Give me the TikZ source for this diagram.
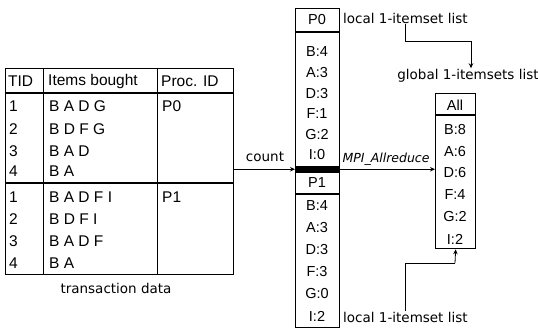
\documentclass[tikz,border=0pt]{standalone}
\usepackage{fontspec}
\setmainfont{DejaVu Sans}
\newfontfamily\tabf{Liberation Sans}
\usetikzlibrary{arrows.meta}
\begin{document}
\begin{tikzpicture}[x=1pt,y=-1pt,
  lab/.style={font=\fontsize{13.5}{16}\selectfont, inner sep=1pt},
  tt/.style={font=\tabf\fontsize{15.5}{18}\selectfont, inner sep=0pt, anchor=west},
  ct/.style={font=\tabf\fontsize{14.5}{17}\selectfont, inner sep=0pt},
  boxs/.style={draw, line width=1.3pt, inner sep=0pt, anchor=north west},
  rule/.style={line width=0.9pt},
  arr/.style={line width=0.8pt, -{Stealth[length=5pt,width=4.5pt]}},
  seg/.style={line width=0.8pt}]
\useasboundingbox (0,0) rectangle (538,328);

% ---- transaction table ----
\node[boxs, minimum width=228pt, minimum height=206pt] (tab) at (5,68) {};
\draw[rule] (43,68) -- (43,274);
\draw[rule] (157,68) -- (157,274);
\draw[line width=1.2pt] (5,93) -- (233,93);
\draw[line width=1.2pt] (5,183) -- (233,183);
\node[tt] (h1) at (8,81) {TID};
\node[tt] (h2) at (48,81) {Items bought};
\node[tt] (h3) at (161,81) {Proc. ID};
\node[tt] (a1) at (9,106) {1};
\node[tt] (a2) at (9,129) {2};
\node[tt] (a3) at (9,151) {3};
\node[tt] (a4) at (9,171) {4};
\node[tt] (i1) at (49,106) {B A D G};
\node[tt] (i2) at (49,129) {B D F G};
\node[tt] (i3) at (49,151) {B A D};
\node[tt] (i4) at (49,171) {B A};
\node[tt] (pp0) at (162,106) {P0};
\node[tt] (b1) at (9,197) {1};
\node[tt] (b2) at (9,219) {2};
\node[tt] (b3) at (9,241) {3};
\node[tt] (b4) at (9,263) {4};
\node[tt] (j1) at (49,197) {B A D F I};
\node[tt] (j2) at (49,219) {B D F I};
\node[tt] (j3) at (49,241) {B A D F};
\node[tt] (j4) at (49,263) {B A};
\node[tt] (pp1) at (162,197) {P1};
\node[lab] (cap) at (116,288) {transaction data};

% ---- local lists ----
\node[boxs, minimum width=44pt, minimum height=159pt] (p0box) at (295,8) {};
\draw[line width=1.1pt] (295,32) -- (339,32);
\node[ct] (p0h) at (317,20) {P0};
\node[ct] (p0a) at (317,52) {B:4};
\node[ct] (p0b) at (317,72.6) {A:3};
\node[ct] (p0c) at (317,93.2) {D:3};
\node[ct] (p0d) at (317,113.8) {F:1};
\node[ct] (p0e) at (317,134.4) {G:2};
\node[ct] (p0f) at (317,155) {I:0};
\node[draw, fill=black, line width=0.5pt, minimum width=44pt, minimum height=5pt, inner sep=0pt, anchor=north west] (bar) at (295,166.5) {};
\node[boxs, minimum width=44pt, minimum height=155pt] (p1box) at (295,172) {};
\draw[line width=1.1pt] (295,194) -- (339,194);
\node[ct] (p1h) at (317,183) {P1};
\node[ct] (p1a) at (317,206) {B:4};
\node[ct] (p1b) at (317,228) {A:3};
\node[ct] (p1c) at (317,250) {D:3};
\node[ct] (p1d) at (317,272) {F:3};
\node[ct] (p1e) at (317,294) {G:0};
\node[ct] (p1f) at (317,316) {I:2};

% ---- global list ----
\node[boxs, minimum width=40pt, minimum height=155pt] (all) at (435,93) {};
\draw[line width=1.1pt] (435,115) -- (475,115);
\node[ct] (alh) at (455,105) {All};
\node[ct] (ala) at (455,130) {B:8};
\node[ct] (alb) at (455,151.5) {A:6};
\node[ct] (alc) at (455,173) {D:6};
\node[ct] (ald) at (455,195) {F:4};
\node[ct] (ale) at (455,217) {G:2};
\node[ct] (alf) at (455,239) {I:2};

% ---- labels ----
\node[lab, anchor=west] (ltop) at (342,18) {local 1-itemset list};
\node[lab, anchor=west] (lbot) at (342,317) {local 1-itemset list};
\node[lab] (glob) at (468,76) {global 1-itemsets list};
\node[lab] (cnt) at (265,157) {count};
\node[lab, font=\fontsize{12.5}{15}\selectfont\itshape] (mpi) at (386,159) {MPI\_Allreduce};

% ---- connectors ----
\draw[arr] (tab.east |- bar.west) -- (bar.west);
\draw[arr] (bar.east) -- (all.west |- bar.east);
\coordinate (t1) at (405,41);
\coordinate (t2) at (471,41);
\draw[seg] (ltop.south -| t1) -- (t1) -- (t2);
\draw[arr] (t2) -- (glob.north -| t2);
\coordinate (u1) at (405,263);
\coordinate (u2) at (455,263);
\draw[seg] (lbot.north -| u1) -- (u1) -- (u2);
\draw[arr] (u2) -- (all.south);
\end{tikzpicture}
\end{document}
